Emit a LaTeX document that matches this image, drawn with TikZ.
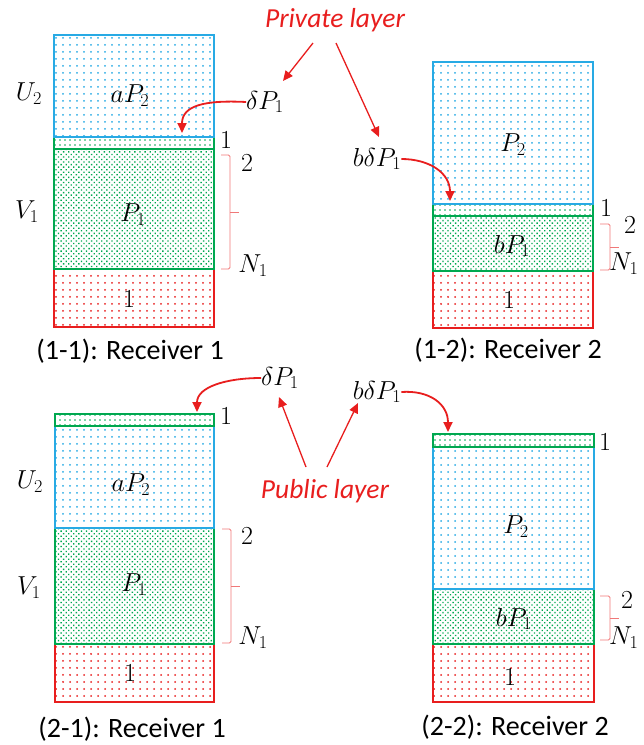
\RequirePackage{fix-cm}
\documentclass[tikz,border=0pt]{standalone}
\usepackage{fontspec}
\setmainfont{Carlito}
\usetikzlibrary{patterns.meta,arrows.meta}
\definecolor{bluC}{RGB}{40,170,228}
\definecolor{grnC}{RGB}{0,168,80}
\definecolor{redC}{RGB}{232,30,30}
\definecolor{brcC}{RGB}{240,120,120}
\tikzset{
  bluebox/.style={draw=bluC, line width=1.3pt, pattern={Dots[distance=7pt,radius=1pt]}, pattern color=bluC},
  greenbox/.style={draw=grnC, line width=1.3pt, pattern={Dots[distance=3.6pt,angle=45,radius=0.95pt]}, pattern color=grnC},
  stripbox/.style={draw=grnC, line width=1.3pt, pattern={Dots[distance=5pt,radius=0.95pt]}, pattern color=grnC},
  redbox/.style={draw=redC, line width=1.3pt, pattern={Dots[distance=7pt,radius=1pt]}, pattern color=redC},
  mlbl/.style={inner sep=0pt, font=\fontsize{26}{30}\selectfont},
  captxt/.style={inner sep=0pt, font=\fontsize{28}{32}\selectfont},
  layertxt/.style={inner sep=0pt, text=redC, font=\fontsize{27.5}{32}\selectfont\itshape},
  redarrow/.style={draw=redC, line width=1.3pt, -{Triangle[length=10pt,width=9pt]}},
  curvearrow/.style={draw=redC, line width=1.8pt, -{Triangle[length=10pt,width=9pt]}},
  brc/.style={draw=brcC, line width=0.9pt, rounded corners=1.5pt},
}
\begin{document}
\begin{tikzpicture}[x=1pt,y=-1pt]
\useasboundingbox (0,0) rectangle (644,745);

% ---------- (1-1) ----------
\path[redbox]   (54,269) rectangle (214,327);
\path[greenbox] (54,149) rectangle (214,269);
\path[stripbox] (54,137) rectangle (214,149);
\path[bluebox]  (54,35)  rectangle (214,137);
\node[mlbl] (u2a) at (29,94) {$U_2$};
\node[mlbl] (ap2a) at (130,96) {$aP_2$};
\node[mlbl] (v1a) at (27,212) {$V_1$};
\node[mlbl] (p1a) at (133,215) {$P_1$};
\node[mlbl] (ra) at (129,299) {$1$};
\node[mlbl] (sa) at (226,140) {$1$};
\node[mlbl] (twoa) at (247,163) {$2$};
\node[mlbl] (n1a) at (253,266) {$N_1$};
\draw[brc] (221,155) -- (230,155) -- (230,269) -- (221,269);
\draw[brc] (230,212) -- (239,212);
\node[captxt] (capa) at (130,351) {(1-1): Receiver 1};
\node[mlbl] (dpa) at (265,102) {$\delta P_1$};
\coordinate (ta) at (182,133);

% ---------- (1-2) ----------
\path[redbox]   (433,271) rectangle (593,328);
\path[greenbox] (433,216) rectangle (593,271);
\path[stripbox] (433,204) rectangle (593,216);
\path[bluebox]  (433,62)  rectangle (593,204);
\node[mlbl] (p2b) at (513,145) {$P_2$};
\node[mlbl] (bp1b) at (512,246) {$bP_1$};
\node[mlbl] (rb) at (509,300) {$1$};
\node[mlbl] (sb) at (606,208) {$1$};
\node[mlbl] (twob) at (630,225) {$2$};
\node[mlbl, anchor=west] (n1b) at (609,264) {$N_1$};
\draw[brc] (600,224) -- (610,224) -- (610,270) -- (600,270);
\draw[brc] (610,247) -- (619,247);
\node[captxt] (capb) at (508,350) {(1-2): Receiver 2};
\node[mlbl] (bdpb) at (377,159) {$b\delta P_1$};
\coordinate (tb) at (450,201);

% ---------- (2-1) ----------
\path[redbox]   (55,644) rectangle (214,702);
\path[greenbox] (55,528) rectangle (214,644);
\path[bluebox]  (55,426) rectangle (214,528);
\path[stripbox] (55,414) rectangle (214,426);
\node[mlbl] (u2c) at (30,482) {$U_2$};
\node[mlbl] (ap2c) at (131,485) {$aP_2$};
\node[mlbl] (v1c) at (29,588) {$V_1$};
\node[mlbl] (p1c) at (134,585) {$P_1$};
\node[mlbl] (rc) at (130,673) {$1$};
\node[mlbl] (sc) at (226,416) {$1$};
\node[mlbl] (twoc) at (247,536) {$2$};
\node[mlbl] (n1c) at (253,638) {$N_1$};
\draw[brc] (222,529) -- (231,529) -- (231,643) -- (222,643);
\draw[brc] (231,586) -- (240,586);
\node[captxt] (capc) at (132,729) {(2-1): Receiver 1};
\node[mlbl] (dpc) at (280,378) {$\delta P_1$};
\coordinate (tc) at (197,412);

% ---------- (2-2) ----------
\path[redbox]   (433,644) rectangle (594,702);
\path[greenbox] (433,589) rectangle (594,644);
\path[bluebox]  (433,447) rectangle (594,589);
\path[stripbox] (433,434) rectangle (594,447);
\node[mlbl] (p2d) at (516,527) {$P_2$};
\node[mlbl] (bp1d) at (514,619) {$bP_1$};
\node[mlbl] (rd) at (510,677) {$1$};
\node[mlbl] (sd) at (605,442) {$1$};
\node[mlbl] (twod) at (627,600) {$2$};
\node[mlbl, anchor=west] (n1d) at (609,638) {$N_1$};
\draw[brc] (600,596) -- (610,596) -- (610,640) -- (600,640);
\draw[brc] (610,618) -- (619,618);
\node[captxt] (capd) at (515,727) {(2-2): Receiver 2};
\node[mlbl] (bdpd) at (377,392) {$b\delta P_1$};
\coordinate (td) at (448,432);

% ---------- layer labels ----------
\node[layertxt] (priv) at (335,20) {Private layer};
\node[layertxt] (publ) at (325,491) {Public layer};

\coordinate (pv1) at (313,43);
\coordinate (pv2) at (336,43);
\coordinate (pb1) at (306,467);
\coordinate (pb2) at (327,467);
\draw[redarrow] (pv1) -- (283,81);
\draw[redarrow] (pv2) -- (379,137);
\draw[redarrow] (pb1) -- (279,397);
\draw[redarrow] (pb2) -- (358,403);

% curved arrows
\draw[curvearrow] (dpa.west) .. controls +(-40,-2) and +(0,-28) .. (ta);
\draw[curvearrow] (bdpb.east) .. controls +(28,0) and +(0,-28) .. (tb);
\draw[curvearrow] (dpc.west) .. controls +(-35,0) and +(0,-25) .. (tc);
\draw[curvearrow] (bdpd.east) .. controls +(28,-2) and +(0,-28) .. (td);
\end{tikzpicture}
\end{document}
